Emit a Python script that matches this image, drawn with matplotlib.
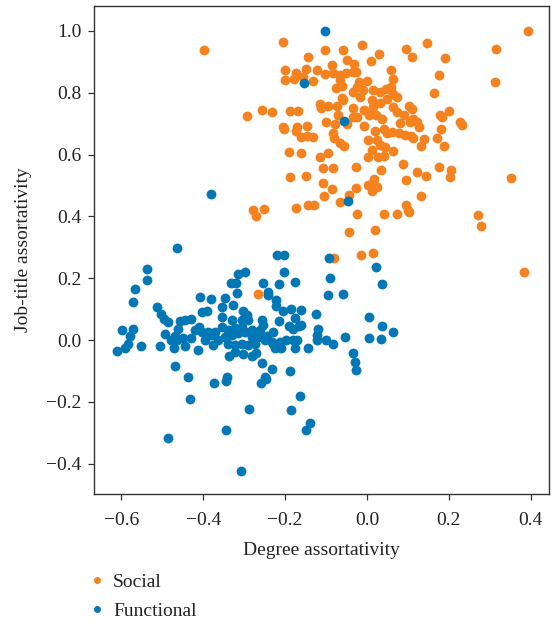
import matplotlib
matplotlib.use("Agg")
import matplotlib.pyplot as plt
from matplotlib.lines import Line2D

# Degree vs. job-title assortativity per network
social_x = [
    -0.399, -0.205, -0.011, -0.103, -0.058, -0.144, -0.048, -0.085, -0.032, -0.200,
    -0.174, -0.149, -0.123, -0.103, -0.084, -0.066, -0.052, -0.035, -0.028, -0.200,
    -0.178, -0.156, -0.133, -0.066, -0.060, -0.075, -0.020, -0.001, -0.025, -0.033,
    -0.009, -0.017, -0.062, -0.058, -0.115, -0.113, -0.096, -0.074, -0.035, -0.007,
    -0.257, -0.233, -0.188, -0.169, -0.293, -0.072, -0.024, -0.035, 0.005, -0.099,
    -0.078, -0.048, -0.008, -0.206, -0.202, -0.170, -0.147, -0.174, -0.082, -0.081,
    -0.161, -0.147, -0.131, 0.003, -0.066, -0.056, -0.191, -0.161, -0.115, -0.096,
    0.003, -0.107, -0.082, -0.028, -0.188, -0.150,
    0.393, 0.315, 0.313, 0.147, 0.095, 0.109, 0.191, 0.029, 0.010, 0.059,
    0.063, 0.175, 0.163, 0.015, 0.032, 0.046, 0.058, 0.050, 0.064, 0.074,
    0.011, 0.032, 0.014, 0.063, 0.074, 0.103, 0.109, 0.090, 0.022, 0.036,
    0.178, 0.183, 0.201, 0.227, 0.233, 0.113, 0.123, 0.128, 0.105, 0.081,
    0.020, 0.042, 0.050, 0.060, 0.077, 0.093, 0.107, 0.113, 0.180, 0.170,
    0.139, 0.131, 0.188, 0.024, 0.032, 0.044, 0.063, 0.011, 0.028, 0.042,
    0.087, 0.033, 0.123, 0.144, 0.175, 0.206, 0.203, 0.352, 0.017, 0.095,
    -0.107, -0.085, -0.104, -0.028, -0.044, 0.003, 0.015, 0.011, 0.024, -0.065,
    -0.278, -0.271, -0.252, -0.174, -0.145, -0.130, -0.024, -0.043, 0.019, -0.081,
    -0.015, 0.014, 0.133, 0.095, 0.103, 0.101, 0.042, 0.074, 0.272, 0.279,
    0.383, -0.267,
]
social_y = [
    0.938, 0.965, 0.955, 0.939, 0.939, 0.917, 0.906, 0.890, 0.893, 0.873,
    0.865, 0.876, 0.874, 0.860, 0.863, 0.858, 0.863, 0.868, 0.868, 0.840,
    0.846, 0.850, 0.837, 0.841, 0.822, 0.815, 0.836, 0.838, 0.818, 0.804,
    0.809, 0.787, 0.782, 0.777, 0.764, 0.750, 0.757, 0.757, 0.752, 0.744,
    0.745, 0.737, 0.741, 0.741, 0.724, 0.727, 0.723, 0.721, 0.728, 0.706,
    0.699, 0.699, 0.693, 0.688, 0.682, 0.690, 0.692, 0.677, 0.671, 0.655,
    0.656, 0.660, 0.658, 0.647, 0.637, 0.629, 0.607, 0.606, 0.593, 0.604,
    0.593, 0.556, 0.556, 0.561, 0.527, 0.532,
    1.000, 0.941, 0.836, 0.962, 0.943, 0.917, 0.912, 0.926, 0.902, 0.874,
    0.844, 0.857, 0.799, 0.809, 0.804, 0.811, 0.818, 0.781, 0.796, 0.787,
    0.777, 0.768, 0.755, 0.753, 0.739, 0.757, 0.747, 0.728, 0.728, 0.714,
    0.728, 0.721, 0.741, 0.706, 0.696, 0.714, 0.706, 0.688, 0.706, 0.703,
    0.677, 0.684, 0.669, 0.674, 0.671, 0.663, 0.660, 0.655, 0.684, 0.654,
    0.650, 0.628, 0.628, 0.647, 0.631, 0.626, 0.612, 0.615, 0.593, 0.595,
    0.569, 0.550, 0.545, 0.532, 0.559, 0.550, 0.528, 0.523, 0.521, 0.518,
    0.507, 0.489, 0.467, 0.492, 0.470, 0.502, 0.509, 0.483, 0.496, 0.447,
    0.421, 0.401, 0.423, 0.426, 0.436, 0.438, 0.407, 0.350, 0.357, 0.265,
    0.275, 0.283, 0.466, 0.436, 0.415, 0.421, 0.407, 0.408, 0.404, 0.370,
    0.221, 0.148,
]

functional_x = [
    -0.103, -0.155, -0.055, -0.381, -0.046, -0.464, -0.221, -0.204, -0.093, 0.022,
    -0.315, -0.297, -0.204, -0.090, -0.333, -0.320, -0.253, -0.214, -0.177, 0.037,
    -0.537, -0.537, -0.566, -0.572, -0.514, -0.504, -0.496, -0.486, -0.599, -0.572,
    -0.578, -0.584, -0.592, -0.611, -0.553, -0.505, -0.493, -0.469, -0.438, -0.457,
    -0.445, -0.431, -0.461, -0.478, -0.469, -0.465, -0.472, -0.450, -0.445, -0.429,
    -0.421, -0.410, -0.404, -0.408, -0.381, -0.403, -0.392, -0.412, -0.388, -0.380,
    -0.372, -0.396, -0.376, -0.364, -0.355, -0.355, -0.347, -0.318, -0.328, -0.302,
    -0.294, -0.331, -0.306, -0.290, -0.355, -0.339, -0.323, -0.306, -0.347, -0.331,
    -0.315, -0.298, -0.282, -0.339, -0.323, -0.306, -0.290, -0.274, -0.323, -0.302,
    -0.282, -0.270, -0.336, -0.282, -0.266, -0.262, -0.254, -0.257, -0.249, -0.233,
    -0.257, -0.233, -0.249, -0.343, -0.241, -0.241, -0.096, -0.058, -0.222, -0.222,
    -0.205, -0.186, -0.162, -0.177, -0.125, -0.214, -0.190, -0.180, -0.166, -0.161,
    -0.119, -0.122, -0.229, -0.245, -0.198, -0.180, -0.172, -0.229, -0.213, -0.225,
    -0.209, -0.176, -0.144, -0.123, -0.099, -0.084, -0.054, 0.005, 0.037, 0.064,
    0.005, 0.033, -0.035, -0.030, -0.026, -0.188, -0.432, -0.485, -0.373, -0.345,
    -0.345, -0.309, -0.289, -0.258, -0.247, -0.164, -0.186, -0.139, -0.149,
]
functional_y = [
    1.000, 0.833, 0.710, 0.473, 0.449, 0.299, 0.274, 0.274, 0.266, 0.235,
    0.213, 0.222, 0.220, 0.201, 0.185, 0.185, 0.184, 0.180, 0.187, 0.181,
    0.229, 0.194, 0.164, 0.123, 0.108, 0.083, 0.070, 0.059, 0.033, 0.037,
    0.014, -0.011, -0.024, -0.036, -0.019, -0.020, 0.019, -0.082, -0.119, 0.061,
    0.065, 0.070, 0.036, 0.000, 0.013, 0.000, -0.026, 0.007, -0.019, 0.006,
    0.032, 0.043, 0.027, 0.138, 0.132, 0.091, 0.095, -0.032, 0.027, 0.016,
    0.027, 0.000, -0.016, 0.000, 0.075, 0.106, 0.137, 0.151, 0.113, 0.095,
    0.081, 0.065, 0.065, 0.065, 0.043, 0.032, 0.038, 0.043, 0.011, 0.016,
    0.022, 0.027, 0.032, -0.011, -0.016, -0.011, -0.016, -0.011, -0.038, -0.045,
    -0.052, -0.041, -0.051, 0.011, 0.011, 0.032, 0.049, 0.065, 0.000, -0.006,
    -0.075, -0.092, -0.119, -0.119, 0.156, 0.146, 0.147, 0.148, 0.129, 0.112,
    0.095, 0.101, 0.099, 0.073, 0.086, 0.062, 0.045, 0.035, 0.045, 0.050,
    0.035, 0.016, 0.027, 0.013, 0.000, 0.000, 0.000, -0.011, -0.006, -0.024,
    -0.024, -0.027, -0.027, 0.000, 0.000, -0.012, 0.009, 0.075, 0.046, 0.025,
    0.007, 0.003, -0.041, -0.070, -0.097, -0.101, -0.190, -0.315, -0.138, -0.131,
    -0.291, -0.424, -0.223, -0.137, -0.126, -0.180, -0.226, -0.268, -0.289,
]

x_ticks = [-0.6, -0.4, -0.2, 0.0, 0.2, 0.4]
y_ticks = [-0.4, -0.2, 0.0, 0.2, 0.4, 0.6, 0.8, 1.0]

ORANGE = "#f4821f"
BLUE = "#0277b6"

plt.rcParams["font.family"] = ["Liberation Serif", "DejaVu Serif"]
plt.rcParams["axes.unicode_minus"] = True

fig = plt.figure(figsize=(5.53, 6.2), dpi=100)
ax = fig.add_axes([0.170, 0.203, 0.823, 0.788])

ax.scatter(social_x, social_y, s=50, color=ORANGE, linewidths=0, zorder=2)
ax.scatter(functional_x, functional_y, s=50, color=BLUE, linewidths=0, zorder=3)

ax.set_xlim(-0.667, 0.445)
ax.set_ylim(-0.498, 1.082)
ax.set_xticks(x_ticks)
ax.set_yticks(y_ticks)
ax.set_xticklabels([f"{v:.1f}".replace("-", "\u2212") for v in x_ticks])
ax.set_yticklabels([f"{v:.1f}".replace("-", "\u2212") for v in y_ticks])
ax.tick_params(axis="both", labelsize=14, length=4, width=0.9, color="#333333",
               labelcolor="#222222", direction="out")
ax.tick_params(axis="x", pad=9)
ax.tick_params(axis="y", pad=5)

for sp in ax.spines.values():
    sp.set_color("#333333")
    sp.set_linewidth(1.0)

ax.set_xlabel("Degree assortativity", fontsize=14, color="#222222", labelpad=9)
ax.set_ylabel("Job-title assortativity", fontsize=14, color="#222222", labelpad=10)

handles = [
    Line2D([], [], marker="o", linestyle="none", markersize=5,
           markerfacecolor=ORANGE, markeredgewidth=0, label="Social"),
    Line2D([], [], marker="o", linestyle="none", markersize=5,
           markerfacecolor=BLUE, markeredgewidth=0, label="Functional"),
]
fig.legend(handles=handles, loc="upper left", bbox_to_anchor=(0.150, 0.088),
           frameon=False, fontsize=14, handlelength=0.6, handletextpad=0.55,
           labelspacing=0.6, borderaxespad=0, labelcolor="#222222")

fig.savefig("out.png", dpi=100)
